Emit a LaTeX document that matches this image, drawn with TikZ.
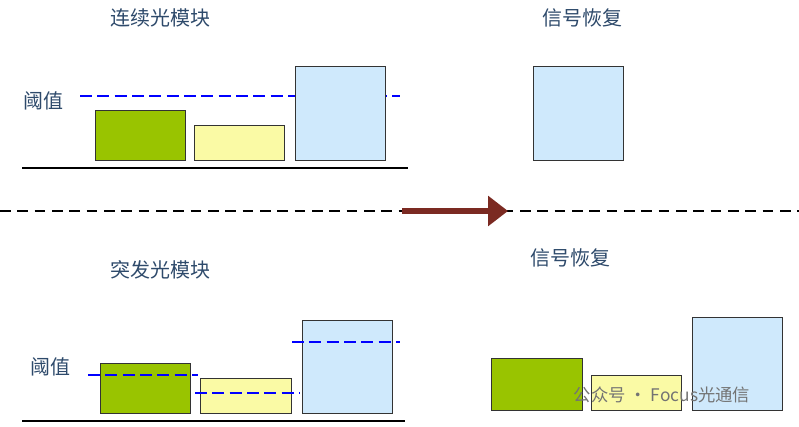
\documentclass[tikz,border=0pt]{standalone}
\usepackage{fontspec}
\setmainfont{Noto Sans CJK SC}
\usetikzlibrary{arrows.meta,positioning}
\definecolor{txtblue}{HTML}{2E4A6B}
\definecolor{gbox}{HTML}{99C400}
\definecolor{ybox}{HTML}{FAFAA5}
\definecolor{bbox}{HTML}{CFE9FC}
\definecolor{darrow}{HTML}{7B2A22}
\begin{document}
\begin{tikzpicture}[x=0.75pt,y=-0.75pt,
bar/.style={draw=black!80, thin},
thres/.style={draw=blue, dashed, dash pattern=on 9pt off 4pt, thick},
base/.style={draw=black, line width=1.6pt},
title/.style={text=txtblue, font=\fontsize{15}{17}\selectfont},
]
\useasboundingbox (0,0) rectangle (799,426);

% Titles
\node[title] (t1) at (160,18) {连续光模块};
\node[title] (t2) at (582,18) {信号恢复};
\node[title] (t3) at (160,270) {突发光模块};
\node[title] (t4) at (570,258) {信号恢复};
\node[title] (th1) at (43,101) {阈值};
\node[title] (th2) at (50,367) {阈值};

% Upper part
\draw[thres] (80,96) -- (400,96);
\draw[bar, fill=gbox] (95,110) rectangle (185,160);
\draw[bar, fill=ybox] (194,125) rectangle (284,160);
\draw[bar, fill=bbox] (295,66) rectangle (385,160);
\draw[base] (22,168) -- (408,168);
\draw[bar, fill=bbox] (533,66) rectangle (623,160);

% Divider
\draw[dashed, dash pattern=on 8pt off 5pt, thick] (0,211) -- (799,211);
\coordinate (as) at (402,211);
\coordinate (ae) at (508,211);
\draw[darrow, line width=5pt, -{Triangle[length=15pt,width=22pt]}] (as) -- (ae);

% Lower part
\draw[bar, fill=gbox] (100,363) rectangle (190,413);
\draw[bar, fill=ybox] (200,378) rectangle (291,413);
\draw[bar, fill=bbox] (302,320) rectangle (392,413);
\draw[thres] (88,375) -- (198,375);
\draw[thres] (195,393) -- (300,393);
\draw[thres] (292,342) -- (400,342);
\draw[base] (22,421) -- (405,421);
\draw[bar, fill=gbox] (491,358) rectangle (582,410);
\draw[bar, fill=ybox] (591,375) rectangle (681,410);
\draw[bar, fill=bbox] (692,317) rectangle (782,410);

% Watermark
\node[text=black!55, font=\fontsize{13}{15}\selectfont] (wm) at (662,395) {公众号 · Focus光通信};
\end{tikzpicture}
\end{document}
